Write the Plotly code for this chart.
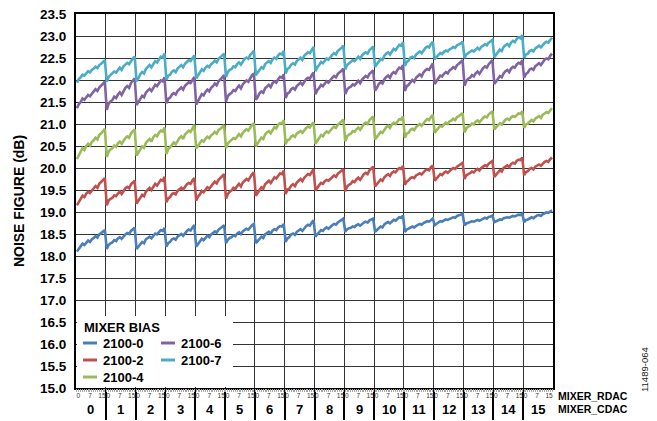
import plotly.graph_objects as go

# ---- categories ----
mixer_rdac = list(range(16))          # outer category (group)
mixer_cdac = list(range(16))          # inner category within each group
cdac_tick_labels = [0, 7, 15]
series_names = ["2100-0", "2100-2", "2100-4", "2100-6", "2100-7"]
series_colors = ["#4a7ebb", "#c0504d", "#9bbb59", "#8064a2", "#4bacc6"]
legend_title = "MIXER BIAS"

# ---- noise figure (dB), 16 CDAC values per RDAC group ----
nf_2100_0 = [
    18.10, 18.17, 18.22, 18.28, 18.25, 18.31, 18.35, 18.32, 18.38, 18.41, 18.45, 18.42, 18.49, 18.52, 18.55, 18.59,
    18.16, 18.25, 18.29, 18.31, 18.36, 18.34, 18.40, 18.43, 18.39, 18.45, 18.49, 18.52, 18.50, 18.57, 18.61, 18.64,
    18.16, 18.21, 18.28, 18.32, 18.29, 18.38, 18.41, 18.44, 18.40, 18.47, 18.51, 18.49, 18.55, 18.59, 18.57, 18.64,
    18.21, 18.29, 18.32, 18.38, 18.40, 18.37, 18.44, 18.47, 18.50, 18.46, 18.53, 18.57, 18.60, 18.58, 18.65, 18.70,
    18.21, 18.28, 18.33, 18.39, 18.36, 18.42, 18.46, 18.43, 18.49, 18.52, 18.56, 18.53, 18.60, 18.63, 18.66, 18.70,
    18.29, 18.37, 18.41, 18.43, 18.47, 18.45, 18.51, 18.54, 18.50, 18.56, 18.59, 18.62, 18.60, 18.66, 18.70, 18.73,
    18.29, 18.34, 18.40, 18.44, 18.41, 18.49, 18.52, 18.55, 18.51, 18.58, 18.61, 18.59, 18.65, 18.68, 18.67, 18.73,
    18.32, 18.40, 18.43, 18.49, 18.51, 18.48, 18.55, 18.58, 18.61, 18.57, 18.64, 18.68, 18.71, 18.69, 18.76, 18.81,
    18.44, 18.50, 18.54, 18.59, 18.57, 18.62, 18.65, 18.62, 18.67, 18.70, 18.73, 18.71, 18.76, 18.79, 18.81, 18.85,
    18.55, 18.61, 18.63, 18.64, 18.67, 18.66, 18.70, 18.72, 18.69, 18.73, 18.76, 18.78, 18.76, 18.81, 18.83, 18.85,
    18.55, 18.59, 18.64, 18.67, 18.65, 18.72, 18.75, 18.77, 18.74, 18.79, 18.82, 18.80, 18.85, 18.88, 18.87, 18.92,
    18.55, 18.60, 18.62, 18.65, 18.67, 18.65, 18.69, 18.71, 18.73, 18.71, 18.75, 18.77, 18.79, 18.78, 18.82, 18.85,
    18.70, 18.74, 18.76, 18.79, 18.78, 18.81, 18.83, 18.82, 18.85, 18.86, 18.88, 18.87, 18.91, 18.92, 18.94, 18.96,
    18.70, 18.74, 18.76, 18.77, 18.79, 18.78, 18.81, 18.82, 18.80, 18.83, 18.85, 18.87, 18.85, 18.89, 18.90, 18.92,
    18.77, 18.79, 18.82, 18.83, 18.82, 18.86, 18.87, 18.88, 18.87, 18.89, 18.91, 18.90, 18.92, 18.94, 18.93, 18.96,
    18.77, 18.82, 18.83, 18.86, 18.88, 18.86, 18.90, 18.92, 18.93, 18.91, 18.95, 18.97, 18.99, 18.98, 19.01, 19.04,
]
nf_2100_2 = [
    19.15, 19.24, 19.30, 19.37, 19.34, 19.42, 19.46, 19.43, 19.50, 19.54, 19.59, 19.55, 19.64, 19.68, 19.71, 19.77,
    19.15, 19.26, 19.30, 19.32, 19.38, 19.36, 19.42, 19.46, 19.41, 19.49, 19.54, 19.57, 19.54, 19.63, 19.67, 19.71,
    19.19, 19.26, 19.34, 19.39, 19.36, 19.46, 19.51, 19.55, 19.50, 19.59, 19.64, 19.60, 19.68, 19.73, 19.71, 19.80,
    19.22, 19.31, 19.34, 19.41, 19.43, 19.40, 19.48, 19.52, 19.55, 19.51, 19.58, 19.63, 19.66, 19.64, 19.72, 19.77,
    19.26, 19.35, 19.40, 19.48, 19.45, 19.52, 19.56, 19.53, 19.60, 19.64, 19.69, 19.65, 19.73, 19.77, 19.81, 19.86,
    19.30, 19.41, 19.46, 19.49, 19.55, 19.52, 19.59, 19.64, 19.58, 19.67, 19.71, 19.75, 19.72, 19.81, 19.86, 19.90,
    19.37, 19.43, 19.51, 19.56, 19.53, 19.63, 19.67, 19.71, 19.66, 19.74, 19.79, 19.76, 19.83, 19.88, 19.86, 19.94,
    19.41, 19.51, 19.53, 19.60, 19.63, 19.59, 19.67, 19.71, 19.75, 19.70, 19.78, 19.82, 19.86, 19.84, 19.91, 19.97,
    19.49, 19.56, 19.61, 19.66, 19.64, 19.70, 19.73, 19.71, 19.76, 19.79, 19.83, 19.80, 19.87, 19.90, 19.93, 19.97,
    19.47, 19.58, 19.62, 19.64, 19.70, 19.68, 19.74, 19.78, 19.73, 19.81, 19.86, 19.89, 19.86, 19.95, 19.99, 20.03,
    19.58, 19.63, 19.70, 19.74, 19.71, 19.79, 19.83, 19.86, 19.82, 19.89, 19.92, 19.90, 19.96, 20.00, 19.98, 20.05,
    19.62, 19.69, 19.72, 19.77, 19.79, 19.77, 19.83, 19.86, 19.88, 19.85, 19.91, 19.95, 19.97, 19.95, 20.02, 20.06,
    19.71, 19.77, 19.81, 19.86, 19.84, 19.89, 19.92, 19.89, 19.94, 19.97, 20.00, 19.98, 20.03, 20.06, 20.08, 20.12,
    19.75, 19.83, 19.86, 19.88, 19.92, 19.90, 19.95, 19.98, 19.94, 20.00, 20.03, 20.06, 20.04, 20.10, 20.13, 20.16,
    19.80, 19.85, 19.91, 19.95, 19.92, 20.00, 20.03, 20.06, 20.02, 20.09, 20.12, 20.10, 20.16, 20.19, 20.18, 20.24,
    19.84, 19.91, 19.93, 19.98, 20.00, 19.97, 20.03, 20.06, 20.08, 20.05, 20.10, 20.14, 20.16, 20.14, 20.20, 20.24,
]
nf_2100_4 = [
    20.20, 20.30, 20.37, 20.45, 20.41, 20.50, 20.55, 20.51, 20.59, 20.63, 20.69, 20.65, 20.75, 20.79, 20.83, 20.89,
    20.25, 20.37, 20.42, 20.45, 20.51, 20.48, 20.56, 20.60, 20.55, 20.63, 20.68, 20.72, 20.69, 20.79, 20.84, 20.88,
    20.28, 20.35, 20.44, 20.49, 20.46, 20.57, 20.62, 20.66, 20.60, 20.70, 20.75, 20.72, 20.80, 20.85, 20.83, 20.92,
    20.32, 20.43, 20.47, 20.54, 20.58, 20.54, 20.63, 20.68, 20.72, 20.66, 20.76, 20.81, 20.85, 20.82, 20.91, 20.98,
    20.44, 20.52, 20.57, 20.63, 20.60, 20.67, 20.71, 20.68, 20.74, 20.77, 20.82, 20.78, 20.86, 20.89, 20.92, 20.97,
    20.45, 20.56, 20.60, 20.63, 20.68, 20.66, 20.73, 20.77, 20.72, 20.80, 20.84, 20.88, 20.85, 20.93, 20.98, 21.02,
    20.49, 20.56, 20.64, 20.69, 20.66, 20.76, 20.81, 20.84, 20.79, 20.88, 20.93, 20.90, 20.98, 21.02, 21.01, 21.09,
    20.54, 20.63, 20.65, 20.71, 20.74, 20.71, 20.78, 20.81, 20.84, 20.80, 20.87, 20.91, 20.94, 20.92, 20.99, 21.04,
    20.55, 20.63, 20.68, 20.75, 20.72, 20.79, 20.83, 20.80, 20.86, 20.90, 20.94, 20.91, 20.98, 21.02, 21.05, 21.10,
    20.61, 20.72, 20.76, 20.78, 20.84, 20.82, 20.88, 20.92, 20.87, 20.95, 21.00, 21.03, 21.00, 21.09, 21.13, 21.17,
    20.65, 20.71, 20.78, 20.82, 20.80, 20.88, 20.93, 20.96, 20.91, 20.99, 21.03, 21.00, 21.07, 21.11, 21.10, 21.17,
    20.69, 20.78, 20.80, 20.87, 20.89, 20.86, 20.93, 20.97, 21.00, 20.96, 21.03, 21.07, 21.11, 21.09, 21.16, 21.21,
    20.80, 20.87, 20.91, 20.96, 20.94, 20.99, 21.03, 21.00, 21.06, 21.08, 21.12, 21.09, 21.16, 21.18, 21.21, 21.25,
    20.81, 20.90, 20.94, 20.96, 21.01, 20.99, 21.05, 21.08, 21.04, 21.10, 21.14, 21.17, 21.15, 21.22, 21.26, 21.29,
    20.88, 20.93, 20.98, 21.02, 20.99, 21.06, 21.10, 21.12, 21.09, 21.15, 21.18, 21.16, 21.21, 21.24, 21.23, 21.29,
    20.91, 20.99, 21.01, 21.06, 21.09, 21.06, 21.12, 21.15, 21.18, 21.14, 21.21, 21.24, 21.27, 21.25, 21.32, 21.36,
]
nf_2100_6 = [
    21.36, 21.45, 21.50, 21.58, 21.55, 21.62, 21.66, 21.63, 21.70, 21.74, 21.79, 21.75, 21.83, 21.87, 21.91, 21.96,
    21.32, 21.46, 21.51, 21.54, 21.62, 21.59, 21.67, 21.72, 21.66, 21.76, 21.82, 21.86, 21.82, 21.93, 21.99, 22.04,
    21.43, 21.50, 21.59, 21.64, 21.61, 21.71, 21.76, 21.80, 21.75, 21.84, 21.89, 21.86, 21.94, 21.99, 21.97, 22.06,
    21.47, 21.57, 21.60, 21.67, 21.70, 21.67, 21.75, 21.79, 21.83, 21.78, 21.87, 21.91, 21.95, 21.93, 22.01, 22.07,
    21.44, 21.54, 21.60, 21.68, 21.65, 21.73, 21.78, 21.74, 21.82, 21.86, 21.92, 21.88, 21.97, 22.01, 22.05, 22.11,
    21.51, 21.63, 21.68, 21.71, 21.77, 21.75, 21.82, 21.87, 21.81, 21.90, 21.95, 21.99, 21.96, 22.05, 22.11, 22.15,
    21.55, 21.61, 21.70, 21.74, 21.71, 21.81, 21.86, 21.89, 21.84, 21.93, 21.97, 21.94, 22.02, 22.07, 22.05, 22.13,
    21.59, 21.69, 21.72, 21.79, 21.82, 21.78, 21.86, 21.90, 21.94, 21.89, 21.97, 22.02, 22.05, 22.03, 22.11, 22.17,
    21.68, 21.77, 21.82, 21.89, 21.86, 21.93, 21.97, 21.94, 22.01, 22.05, 22.09, 22.06, 22.14, 22.17, 22.21, 22.26,
    21.68, 21.78, 21.83, 21.85, 21.90, 21.88, 21.94, 21.98, 21.93, 22.01, 22.05, 22.09, 22.06, 22.14, 22.18, 22.22,
    21.76, 21.82, 21.91, 21.95, 21.92, 22.02, 22.07, 22.10, 22.05, 22.14, 22.18, 22.15, 22.23, 22.28, 22.26, 22.34,
    21.75, 21.86, 21.89, 21.96, 22.00, 21.96, 22.05, 22.09, 22.13, 22.08, 22.17, 22.22, 22.25, 22.23, 22.32, 22.38,
    21.91, 21.99, 22.04, 22.10, 22.08, 22.14, 22.18, 22.15, 22.22, 22.25, 22.29, 22.26, 22.34, 22.37, 22.40, 22.45,
    21.87, 21.98, 22.03, 22.05, 22.11, 22.08, 22.15, 22.19, 22.14, 22.22, 22.27, 22.31, 22.28, 22.36, 22.41, 22.45,
    21.91, 21.97, 22.05, 22.09, 22.06, 22.15, 22.20, 22.23, 22.18, 22.26, 22.30, 22.28, 22.35, 22.39, 22.37, 22.45,
    22.05, 22.14, 22.17, 22.24, 22.26, 22.23, 22.31, 22.35, 22.38, 22.34, 22.41, 22.46, 22.49, 22.47, 22.55, 22.60,
]
nf_2100_7 = [
    21.94, 22.02, 22.06, 22.12, 22.10, 22.16, 22.20, 22.17, 22.23, 22.26, 22.30, 22.27, 22.34, 22.37, 22.40, 22.45,
    21.96, 22.07, 22.11, 22.14, 22.19, 22.17, 22.24, 22.28, 22.23, 22.31, 22.35, 22.39, 22.36, 22.44, 22.49, 22.53,
    21.97, 22.04, 22.13, 22.18, 22.15, 22.25, 22.30, 22.34, 22.29, 22.38, 22.43, 22.40, 22.48, 22.53, 22.51, 22.60,
    22.00, 22.10, 22.12, 22.19, 22.22, 22.18, 22.26, 22.30, 22.34, 22.29, 22.37, 22.41, 22.45, 22.43, 22.50, 22.56,
    22.04, 22.12, 22.17, 22.24, 22.21, 22.28, 22.32, 22.29, 22.36, 22.39, 22.44, 22.40, 22.48, 22.52, 22.55, 22.60,
    22.07, 22.18, 22.23, 22.25, 22.31, 22.29, 22.36, 22.40, 22.35, 22.43, 22.48, 22.51, 22.48, 22.57, 22.62, 22.66,
    22.11, 22.17, 22.25, 22.29, 22.26, 22.36, 22.40, 22.43, 22.39, 22.47, 22.51, 22.48, 22.56, 22.60, 22.58, 22.66,
    22.15, 22.25, 22.28, 22.35, 22.38, 22.35, 22.43, 22.47, 22.51, 22.46, 22.55, 22.59, 22.63, 22.61, 22.69, 22.75,
    22.20, 22.29, 22.34, 22.41, 22.38, 22.45, 22.49, 22.46, 22.53, 22.57, 22.61, 22.58, 22.66, 22.69, 22.73, 22.78,
    22.24, 22.34, 22.38, 22.40, 22.45, 22.43, 22.49, 22.53, 22.48, 22.56, 22.60, 22.63, 22.60, 22.68, 22.72, 22.76,
    22.30, 22.36, 22.44, 22.48, 22.46, 22.55, 22.60, 22.63, 22.58, 22.66, 22.71, 22.68, 22.75, 22.80, 22.78, 22.86,
    22.32, 22.41, 22.44, 22.51, 22.53, 22.50, 22.58, 22.62, 22.65, 22.61, 22.68, 22.73, 22.76, 22.74, 22.82, 22.87,
    22.47, 22.53, 22.57, 22.61, 22.59, 22.64, 22.67, 22.65, 22.70, 22.72, 22.75, 22.73, 22.79, 22.81, 22.83, 22.87,
    22.50, 22.58, 22.61, 22.63, 22.67, 22.65, 22.70, 22.73, 22.69, 22.75, 22.78, 22.81, 22.79, 22.85, 22.88, 22.91,
    22.52, 22.58, 22.65, 22.69, 22.66, 22.75, 22.79, 22.82, 22.77, 22.85, 22.89, 22.86, 22.93, 22.97, 22.95, 23.02,
    22.50, 22.58, 22.60, 22.66, 22.68, 22.65, 22.72, 22.75, 22.78, 22.74, 22.80, 22.84, 22.87, 22.85, 22.91, 22.96,
]
series_values = [nf_2100_0, nf_2100_2, nf_2100_4, nf_2100_6, nf_2100_7]

n_c = len(mixer_cdac)
x_idx = [r * n_c + c for r in mixer_rdac for c in mixer_cdac]
x_range = [-0.5, len(x_idx) - 0.5]

FONT = "Liberation Sans, Arial, sans-serif"

# The page body has an 8px margin, so the figure is drawn 8px in from the
# window's top-left corner; size it so it ends at the window edge.
OFF = 8
W, H = 657 - OFF, 421 - OFF
ML, MR, MT, MB = 76 - OFF, 104, 14 - OFF, 33
PW, PH = W - ML - MR, H - MT - MB


def px(xw):
    """window x pixel -> paper x"""
    return (xw - OFF - ML) / PW


def py(yw):
    """window y pixel -> paper y"""
    return (H - MB - (yw - OFF)) / PH


fig = go.Figure()

# dummy trace so the primary (grid / separator) axis exists
fig.add_trace(go.Scatter(x=[None], y=[None], xaxis="x", yaxis="y",
                         showlegend=False, hoverinfo="skip"))

for name, vals, col in zip(series_names, series_values, series_colors):
    fig.add_trace(go.Scatter(
        x=x_idx, y=vals, mode="lines", name=name, xaxis="x2", yaxis="y",
        line=dict(color=col, width=2.6), showlegend=False,
    ))

group_bounds = [r * n_c - 0.5 for r in mixer_rdac[1:]]
# small CDAC labels: "0" sits just right of a group boundary, "15" just left
# of the next one, "7" centred on its point (as in the original figure)
label_nudge = {0: 0.8, 7: 0.0, 15: -1.6}
small_tickvals = [r * n_c + c + label_nudge[c] for r in mixer_rdac for c in cdac_tick_labels]
small_ticktext = [str(c) for r in mixer_rdac for c in cdac_tick_labels]

annotations = []
for r in mixer_rdac:
    annotations.append(dict(
        x=r * n_c + (n_c - 1) / 2, xref="x2", y=0, yref="paper",
        yanchor="middle", yshift=-21, text=f"<b>{r}</b>", showarrow=False,
        font=dict(family=FONT, size=13, color="black")))
annotations += [
    dict(x=1, xref="paper", xanchor="left", xshift=3, y=0, yref="paper",
         yanchor="middle", yshift=-8, text="<b>MIXER_RDAC</b>", showarrow=False,
         font=dict(family=FONT, size=10.5, color="black")),
    dict(x=1, xref="paper", xanchor="left", xshift=3, y=0, yref="paper",
         yanchor="middle", yshift=-21, text="<b>MIXER_CDAC</b>", showarrow=False,
         font=dict(family=FONT, size=10.5, color="black")),
    dict(x=1, xref="paper", xanchor="center", xshift=91, y=0, yref="paper",
         yanchor="middle", yshift=18, text="11489-064", textangle=-90, showarrow=False,
         font=dict(family=FONT, size=9.5, color="#222")),
]

# legend (built by hand: short line samples, two columns filled column-first)
shapes = [dict(type="rect", xref="paper", yref="paper", x0=px(77), x1=px(233),
               y0=py(387), y1=py(316), fillcolor="white", line=dict(width=0),
               layer="above")]
annotations.append(dict(x=px(82), xref="paper", xanchor="left", y=py(327), yref="paper",
                        yanchor="middle", text=f"<b>{legend_title}</b>", showarrow=False,
                        font=dict(family=FONT, size=13, color="black")))
legend_slots = [(83, 343), (83, 360), (83, 377), (161, 343), (161, 360)]
for (lx, ly), name, col in zip(legend_slots, series_names, series_colors):
    shapes.append(dict(type="line", xref="paper", yref="paper", x0=px(lx), x1=px(lx + 14),
                       y0=py(ly), y1=py(ly), line=dict(color=col, width=3), layer="above"))
    annotations.append(dict(x=px(lx + 18), xref="paper", xanchor="left", y=py(ly), yref="paper",
                            yanchor="middle", text=f"<b>{name}</b>", showarrow=False,
                            font=dict(family=FONT, size=13, color="black")))

fig.update_layout(
    width=W, height=H,
    margin=dict(l=ML, r=MR, t=MT, b=MB, autoexpand=False),
    paper_bgcolor="white", plot_bgcolor="white",
    font=dict(family=FONT, color="black"),
    xaxis=dict(
        range=x_range, tickmode="array", tickvals=group_bounds,
        showticklabels=False, ticks="outside", ticklen=30, tickwidth=1.5,
        tickcolor="black", showgrid=True, gridcolor="#333", gridwidth=1.3,
        zeroline=False, showline=True, linecolor="black", linewidth=2,
        mirror=True, fixedrange=True, automargin=False,
    ),
    xaxis2=dict(
        range=x_range, overlaying="x", side="bottom", anchor="y",
        tickmode="array", tickvals=small_tickvals, ticktext=small_ticktext,
        tickangle=0, tickfont=dict(family=FONT, size=6.5, color="#333"),
        ticks="", showgrid=False, zeroline=False, showline=False,
        minor=dict(tickvals=x_idx, ticks="outside", ticklen=3,
                   tickcolor="#aaa", tickwidth=1, showgrid=False),
        ticklabelstandoff=2, automargin=False, ticklabeloverflow="allow",
    ),
    yaxis=dict(
        range=[15.0, 23.5], dtick=0.5, tick0=15.0, tickformat=".1f",
        tickfont=dict(family=FONT, size=13.5, color="black", weight="bold"),
        showgrid=True, gridcolor="#333", gridwidth=1.3, zeroline=False,
        showline=True, linecolor="black", linewidth=2, mirror=True,
        ticks="", ticklabelstandoff=5, automargin=False,
        ticklabeloverflow="allow",
        title=dict(text="<b>NOISE FIGURE (dB)</b>", standoff=12,
                   font=dict(family=FONT, size=14, color="black")),
    ),
    shapes=shapes,
    annotations=annotations,
    showlegend=False,
)

fig.write_html("out.html")
